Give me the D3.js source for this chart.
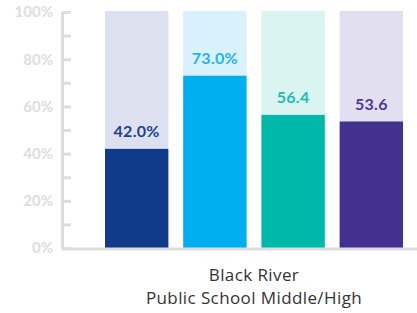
<!DOCTYPE html>
<html>
<head>
<meta charset="utf-8">
<script src="https://cdn.jsdelivr.net/npm/d3@7"></script>
<style>
  body { margin: 0; background: #fff; }
  svg { display: block; }
</style>
</head>
<body>
<svg id="chart" width="417" height="313"></svg>
<script>
// values
const series = ['a', 'b', 'c', 'd'];
const values = [42.0, 73.0, 56.4, 53.6];
const valueLabels = ['42.0%', '73.0%', '56.4', '53.6'];
const barColors = ['#123a8a', '#00aeef', '#00b8a9', '#44318f'];
const bgColors = ['#dde1ef', '#d9f1fb', '#d9f4f1', '#e2dff0'];
const labelColors = ['#1f3f8f', '#1fb3ef', '#1ebcad', '#4a3a96'];
const yTicks = [0, 10, 20, 30, 40, 50, 60, 70, 80, 90, 100];
const categoryLines = ['Black River', 'Public School Middle/High'];

const svg = d3.select('#chart');
const axisX = 62;
const baseY = 248;

const x = d3.scaleBand().domain(series).range([105, 403]).paddingInner(0.19).paddingOuter(0);
const y = d3.scaleLinear().domain([0, 100]).range([baseY, 12]);

// background bars (full 100%)
svg.selectAll('rect.bg')
  .data(series)
  .enter().append('rect')
  .attr('class', 'bg')
  .attr('x', d => x(d))
  .attr('width', x.bandwidth())
  .attr('y', y(100) - 1)
  .attr('height', y(0) - y(100) + 1)
  .attr('fill', (d, i) => bgColors[i]);

// value bars
svg.selectAll('rect.bar')
  .data(series)
  .enter().append('rect')
  .attr('class', 'bar')
  .attr('x', d => x(d))
  .attr('width', x.bandwidth())
  .attr('y', (d, i) => y(values[i]))
  .attr('height', (d, i) => y(0) - y(values[i]))
  .attr('fill', (d, i) => barColors[i]);

// value labels
svg.selectAll('text.val')
  .data(series)
  .enter().append('text')
  .attr('class', 'val')
  .attr('x', d => x(d) + x.bandwidth() / 2)
  .attr('y', (d, i) => y(values[i]) - 12)
  .attr('text-anchor', 'middle')
  .style('font-family', 'Lato, "Open Sans", sans-serif')
  .style('font-weight', 'bold')
  .style('font-size', '16px')
  .style('letter-spacing', '0.3px')
  .attr('fill', (d, i) => labelColors[i])
  .text((d, i) => valueLabels[i]);

// baseline across
svg.append('line')
  .attr('x1', axisX).attr('x2', 417)
  .attr('y1', baseY + 1).attr('y2', baseY + 1)
  .attr('stroke', '#dddddd')
  .attr('stroke-width', 3);

// y axis with ticks pointing inward
const yAxis = d3.axisLeft(y)
  .tickValues(yTicks)
  .tickSizeInner(-9)
  .tickSizeOuter(0)
  .tickPadding(9)
  .tickFormat(d => d % 20 === 0 ? d + '%' : '');

const gy = svg.append('g')
  .attr('transform', `translate(${axisX},0)`)
  .call(yAxis);

gy.select('.domain').attr('stroke', '#dddddd').attr('stroke-width', 3);
gy.selectAll('.tick line').attr('stroke', '#dddddd').attr('stroke-width', 3);
gy.selectAll('.tick text')
  .attr('fill', '#dddddd')
  .style('font-family', 'Lato, "Open Sans", sans-serif')
  .style('font-weight', 'bold')
  .style('font-size', '15px');

// category label
svg.append('text')
  .attr('x', (x.range()[0] + x.range()[1]) / 2)
  .attr('y', 281)
  .attr('text-anchor', 'middle')
  .style('font-family', '"Open Sans", sans-serif')
  .style('font-size', '17px')
  .style('letter-spacing', '0.4px')
  .attr('fill', '#333')
  .selectAll('tspan')
  .data(categoryLines)
  .enter().append('tspan')
  .attr('x', (x.range()[0] + x.range()[1]) / 2)
  .attr('dy', (d, i) => i === 0 ? 0 : 23)
  .text(d => d);
</script>
</body>
</html>
